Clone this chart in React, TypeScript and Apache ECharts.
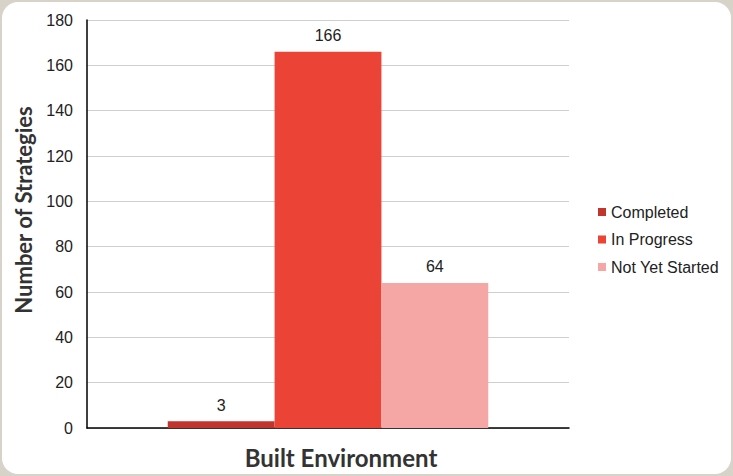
import React, { useEffect, useRef } from "react";
import * as echarts from "echarts";

const categories = ["Built Environment"];
const seriesNames = ["Completed", "In Progress", "Not Yet Started"];
const completed = [3];
const inProgress = [166];
const notYetStarted = [64];
const seriesColors = ["#c1352c", "#eb4335", "#f4a7a5"];

export default function App() {
  const ref = useRef<HTMLDivElement>(null);

  useEffect(() => {
    if (!ref.current) return;
    const chart = echarts.init(ref.current, null, { renderer: "svg" });
    const values = [completed, inProgress, notYetStarted];
    chart.setOption({
      animation: false,
      backgroundColor: "transparent",
      grid: { left: 87, top: 20, right: 164, bottom: 48, containLabel: false },
      legend: {
        orient: "vertical",
        left: 593,
        top: 199,
        itemWidth: 8,
        itemHeight: 8,
        itemGap: 11.5,
        icon: "rect",
        data: seriesNames,
        textStyle: { fontFamily: "Liberation Sans", fontSize: 16, color: "#222" },
      },
      xAxis: {
        type: "category",
        data: categories,
        axisLabel: { show: false },
        axisTick: { show: false },
        axisLine: { show: true, lineStyle: { color: "#000", width: 1.5 } },
      },
      yAxis: {
        type: "value",
        min: 0,
        max: 180,
        interval: 20,
        axisLine: { show: true, lineStyle: { color: "#000", width: 1.5 } },
        axisTick: { show: false },
        axisLabel: { fontFamily: "Liberation Sans", fontSize: 16, color: "#222", margin: 14 },
        splitLine: { lineStyle: { color: "#cfcfcf", width: 1 } },
      },
      graphic: [
        {
          type: "text",
          x: 341,
          y: 457,
          style: {
            text: "Built Environment",
            fontFamily: "Lato",
            fontWeight: "bold",
            fontSize: 24,
            fill: "#333",
            align: "center",
            verticalAlign: "middle",
          },
        },
        {
          type: "text",
          x: 23,
          y: 210,
          rotation: Math.PI / 2,
          style: {
            text: "Number of Strategies",
            fontFamily: "Lato",
            fontWeight: "bold",
            fontSize: 22,
            fill: "#333",
            align: "center",
            verticalAlign: "middle",
          },
        },
      ],
      series: seriesNames.map((name, i) => ({
        name,
        type: "bar",
        data: values[i],
        barGap: "0%",
        barCategoryGap: "33.5%",
        itemStyle: { color: seriesColors[i] },
        label: {
          show: true,
          position: "top",
          distance: 8,
          fontFamily: "Liberation Sans",
          fontSize: 16,
          color: "#222",
        },
      })),
    });
    return () => chart.dispose();
  }, []);

  return (
    <div style={{ position: "fixed", left: 0, top: 0, width: 733, height: 476, background: "#d7d3c9" }}>
      <div
        style={{
          position: "absolute",
          left: 2,
          top: 2,
          width: 729,
          height: 472,
          background: "#ffffff",
          borderRadius: 16,
        }}
      />
      <div ref={ref} style={{ position: "absolute", left: 0, top: 0, width: 733, height: 476 }} />
    </div>
  );
}
